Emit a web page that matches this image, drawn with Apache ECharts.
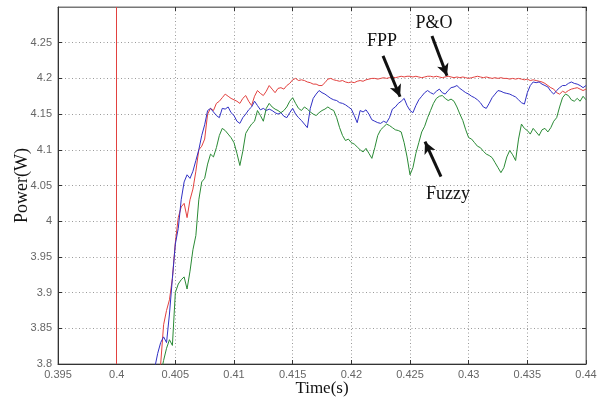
<!DOCTYPE html>
<html>
<head>
<meta charset="utf-8">
<script src="https://cdn.jsdelivr.net/npm/echarts@6/dist/echarts.min.js"></script>
<style>
  html, body { margin: 0; padding: 0; background: #fff; }
  #main { width: 607px; height: 400px; }
</style>
</head>
<body>
<div id="main"></div>
<script>
var time = [
  0.403, 0.40325, 0.4035, 0.40375, 0.404, 0.40425, 0.4045, 0.40475,
  0.405, 0.40525, 0.4055, 0.40575, 0.406, 0.40625, 0.4065, 0.40675,
  0.407, 0.40725, 0.4075, 0.40775, 0.408, 0.40825, 0.4085, 0.40875,
  0.409, 0.40925, 0.4095, 0.40975, 0.41, 0.41025, 0.4105, 0.41075,
  0.411, 0.41125, 0.4115, 0.41175, 0.412, 0.41225, 0.4125, 0.41275,
  0.413, 0.41325, 0.4135, 0.41375, 0.414, 0.41425, 0.4145, 0.41475,
  0.415, 0.41525, 0.4155, 0.41575, 0.416, 0.41625, 0.4165, 0.41675,
  0.417, 0.41725, 0.4175, 0.41775, 0.418, 0.41825, 0.4185, 0.41875,
  0.419, 0.41925, 0.4195, 0.41975, 0.42, 0.42025, 0.4205, 0.42075,
  0.421, 0.42125, 0.4215, 0.42175, 0.422, 0.42225, 0.4225, 0.42275,
  0.423, 0.42325, 0.4235, 0.42375, 0.424, 0.42425, 0.4245, 0.42475,
  0.425, 0.42525, 0.4255, 0.42575, 0.426, 0.42625, 0.4265, 0.42675,
  0.427, 0.42725, 0.4275, 0.42775, 0.428, 0.42825, 0.4285, 0.42875,
  0.429, 0.42925, 0.4295, 0.42975, 0.43, 0.43025, 0.4305, 0.43075,
  0.431, 0.43125, 0.4315, 0.43175, 0.432, 0.43225, 0.4325, 0.43275,
  0.433, 0.43325, 0.4335, 0.43375, 0.434, 0.43425, 0.4345, 0.43475,
  0.435, 0.43525, 0.4355, 0.43575, 0.436, 0.43625, 0.4365, 0.43675,
  0.437, 0.43725, 0.4375, 0.43775, 0.438, 0.43825, 0.4385, 0.43875,
  0.439, 0.43925, 0.4395, 0.43975, 0.44
];

// P&O (red)
var po = [
  3.78, 3.78, 3.79, 3.80, 3.855, 3.875, 3.89, 3.92,
  3.97, 4.005, 4.02, 4.025, 4.005, 4.03, 4.045, 4.07,
  4.10, 4.105, 4.115, 4.15, 4.158, 4.155, 4.165, 4.168,
  4.173, 4.178, 4.175, 4.172, 4.17, 4.168, 4.165, 4.172,
  4.176, 4.168, 4.162, 4.175, 4.183, 4.179, 4.176, 4.182,
  4.19, 4.185, 4.18, 4.186, 4.187, 4.185, 4.19, 4.193,
  4.198, 4.2, 4.197, 4.198, 4.197, 4.195, 4.194, 4.192,
  4.192, 4.19, 4.19, 4.194, 4.199, 4.2, 4.198, 4.197,
  4.196, 4.197, 4.195, 4.194, 4.195, 4.194, 4.196, 4.197,
  4.196, 4.198, 4.199, 4.2, 4.2, 4.199, 4.2, 4.201,
  4.2, 4.201, 4.202, 4.201, 4.202, 4.203, 4.202, 4.203,
  4.203, 4.202, 4.203, 4.202, 4.201, 4.202, 4.203, 4.203,
  4.202, 4.203, 4.202, 4.201, 4.202, 4.203, 4.202, 4.201,
  4.202, 4.201, 4.202, 4.201, 4.2, 4.201, 4.202, 4.203,
  4.202, 4.201, 4.202, 4.201, 4.2, 4.201, 4.2, 4.201,
  4.2, 4.2, 4.199, 4.2, 4.199, 4.2, 4.199, 4.198,
  4.199, 4.197, 4.198, 4.197, 4.196, 4.195, 4.193, 4.19,
  4.187, 4.185, 4.18, 4.178, 4.182, 4.18, 4.183, 4.185,
  4.186, 4.187, 4.185, 4.183, 4.185
];

// FPP (blue)
var fpp = [
  3.78, 3.795, 3.815, 3.83, 3.838, 3.83, 3.87, 3.92,
  3.968, 3.99, 4.03, 4.055, 4.065, 4.06, 4.07, 4.085,
  4.10, 4.12, 4.135, 4.155, 4.158, 4.153, 4.148, 4.145,
  4.158, 4.157, 4.16, 4.152, 4.148, 4.14, 4.137, 4.145,
  4.15, 4.156, 4.16, 4.168, 4.162, 4.156, 4.158, 4.155,
  4.157, 4.155, 4.152, 4.15, 4.152, 4.147, 4.145, 4.152,
  4.158, 4.15, 4.145, 4.141, 4.136, 4.131, 4.158, 4.172,
  4.178, 4.183, 4.18, 4.178, 4.175, 4.172, 4.17, 4.169,
  4.166, 4.165, 4.163, 4.16, 4.157, 4.148, 4.138, 4.155,
  4.153, 4.156, 4.15, 4.142, 4.14, 4.138, 4.137, 4.14,
  4.138, 4.145, 4.157, 4.16, 4.165, 4.168, 4.172, 4.162,
  4.155, 4.152, 4.162, 4.17, 4.175, 4.18, 4.183, 4.18,
  4.178, 4.182, 4.185, 4.18, 4.178, 4.183, 4.187, 4.188,
  4.19, 4.186, 4.183, 4.18, 4.178, 4.175, 4.173, 4.17,
  4.166, 4.16, 4.158, 4.165, 4.173, 4.178, 4.183, 4.182,
  4.18, 4.179, 4.178, 4.176, 4.174, 4.17, 4.166, 4.164,
  4.18, 4.19, 4.195, 4.194, 4.195, 4.192, 4.19, 4.188,
  4.182, 4.178, 4.183, 4.187, 4.19, 4.19, 4.193, 4.195,
  4.193, 4.192, 4.19, 4.187, 4.19
];

// Fuzzy (green)
var fuzzy = [
  3.75, 3.76, 3.77, 3.785, 3.805, 3.822, 3.834, 3.826,
  3.9, 3.912, 3.918, 3.922, 3.905, 3.93, 3.96, 3.98,
  4.03, 4.055, 4.06, 4.08, 4.094, 4.09, 4.103, 4.12,
  4.13, 4.127, 4.122, 4.117, 4.11, 4.095, 4.078, 4.098,
  4.123, 4.13, 4.136, 4.14, 4.155, 4.148, 4.14, 4.158,
  4.165, 4.16, 4.157, 4.155, 4.152, 4.155, 4.16, 4.168,
  4.173, 4.165, 4.158, 4.155, 4.16, 4.157, 4.153, 4.15,
  4.148, 4.152, 4.155, 4.157, 4.16, 4.157, 4.155, 4.145,
  4.131, 4.12, 4.113, 4.115, 4.11, 4.108, 4.104, 4.1,
  4.097, 4.102, 4.095, 4.088, 4.103, 4.12, 4.128, 4.132,
  4.136, 4.134, 4.131, 4.128, 4.127, 4.125, 4.11, 4.09,
  4.065, 4.075, 4.095, 4.11, 4.125, 4.133, 4.145, 4.155,
  4.165, 4.172, 4.175, 4.176, 4.172, 4.169, 4.171, 4.168,
  4.16, 4.15, 4.141, 4.128, 4.117, 4.115, 4.11, 4.105,
  4.103, 4.098, 4.094, 4.092, 4.089, 4.082, 4.075, 4.068,
  4.075, 4.09, 4.099, 4.093, 4.085, 4.115, 4.136, 4.13,
  4.127, 4.122, 4.13, 4.125, 4.12, 4.128, 4.13, 4.125,
  4.131, 4.14, 4.145, 4.16, 4.173, 4.178, 4.176, 4.17,
  4.168, 4.172, 4.168, 4.175, 4.17
];

// vertical red trace at t = 0.4
var poStep = 0.4;

// annotations (data coordinates)
var noteText = ['P&O', 'FPP', 'Fuzzy'];
var noteAt = [[0.42704, 4.2766], [0.42261, 4.2525], [0.42824, 4.0374]];
var arrowFrom = [[0.42687, 4.2595], [0.42270, 4.2316], [0.42764, 4.0626]];
var arrowTo = [[0.42815, 4.2036], [0.42415, 4.1743], [0.42628, 4.1114]];

function pairs(vals) {
  return time.map(function (t, i) { return [t, vals[i]]; });
}
function fmt(v) { return String(+v.toFixed(3)); }

var dom = document.getElementById('main');
var myChart = echarts.init(dom, null, { renderer: 'canvas' });

var gridLine = { show: true, lineStyle: { color: '#9a9a9a', type: [1, 2.5], width: 1 } };
var tickStyle = { show: true, inside: true, length: 4, lineStyle: { color: '#333' } };

option = {
  animation: false,
  backgroundColor: '#fff',
  grid: {
    left: 58, right: 21, top: 7, bottom: 36,
    outerBoundsMode: 'none', containLabel: false,
    show: true, borderColor: '#777', borderWidth: 1
  },
  xAxis: [{
    type: 'value',
    min: 0.395, max: 0.44, interval: 0.005,
    name: 'Time(s)', nameLocation: 'middle', nameGap: 16, nameMoveOverlap: false,
    nameTextStyle: { fontFamily: 'Liberation Serif', fontSize: 17, color: '#111', verticalAlign: 'top' },
    axisLine: { show: true, lineStyle: { color: '#333' } },
    axisTick: tickStyle,
    axisLabel: { formatter: fmt, color: '#666', fontFamily: 'Liberation Sans', fontSize: 11, margin: 5 },
    splitLine: gridLine
  }, {
    type: 'value', position: 'top',
    min: 0.395, max: 0.44, interval: 0.005,
    axisLine: { show: true, lineStyle: { color: '#777' } },
    axisTick: tickStyle,
    axisLabel: { show: false },
    splitLine: { show: false }
  }],
  yAxis: [{
    type: 'value',
    min: 3.8, max: 4.3, interval: 0.05,
    name: 'Power(W)', nameLocation: 'middle', nameGap: 27, nameMoveOverlap: false,
    nameTextStyle: { fontFamily: 'Liberation Serif', fontSize: 18, color: '#111' },
    axisLine: { show: true, lineStyle: { color: '#333' } },
    axisTick: tickStyle,
    axisLabel: { formatter: fmt, showMaxLabel: false, color: '#666', fontFamily: 'Liberation Sans', fontSize: 11, margin: 6 },
    splitLine: gridLine
  }, {
    type: 'value', position: 'right',
    min: 3.8, max: 4.3, interval: 0.05,
    axisLine: { show: true, lineStyle: { color: '#777' } },
    axisTick: tickStyle,
    axisLabel: { show: false },
    splitLine: { show: false }
  }],
  series: [{
    name: 'P&O',
    type: 'line',
    data: pairs(po),
    showSymbol: false,
    lineStyle: { color: '#e2413f', width: 1 },
    markLine: {
      silent: true,
      symbol: 'none',
      label: { show: false },
      lineStyle: { color: '#e2413f', type: 'solid', width: 1 },
      data: [{ xAxis: poStep }]
    }
  }, {
    name: 'FPP',
    type: 'line',
    data: pairs(fpp),
    showSymbol: false,
    lineStyle: { color: '#3030c4', width: 1 }
  }, {
    name: 'Fuzzy',
    type: 'line',
    data: pairs(fuzzy),
    showSymbol: false,
    lineStyle: { color: '#2a8a35', width: 1 },
    markLine: {
      silent: true,
      symbol: ['none', 'arrow'],
      symbolSize: [9, 12],
      label: { show: false },
      lineStyle: { color: '#111', type: 'solid', width: 3 },
      data: arrowFrom.map(function (p, i) { return [{ coord: p }, { coord: arrowTo[i] }]; })
    },
    markPoint: {
      silent: true,
      symbol: 'circle',
      symbolSize: 0,
      label: { show: true, color: '#111', fontFamily: 'Liberation Serif', fontSize: 18 },
      data: noteText.map(function (s, i) { return { coord: noteAt[i], value: s, label: { formatter: s } }; })
    }
  }]
};
myChart.setOption(option);
window.onresize = myChart.resize;
</script>
</body>
</html>
